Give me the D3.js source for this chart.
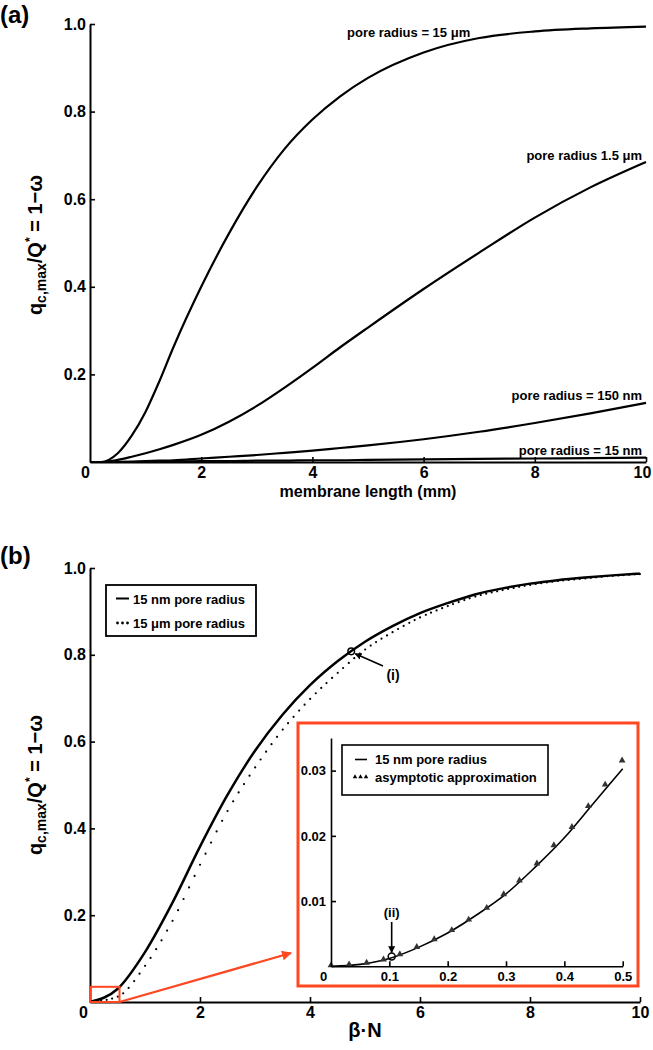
<!DOCTYPE html>
<html>
<head>
<meta charset="utf-8">
<script src="https://cdn.jsdelivr.net/npm/d3@7"></script>
<style>
  html, body { margin: 0; padding: 0; background: #fff; }
  svg { display: block; font-family: "Liberation Sans", Arial, Helvetica, sans-serif; }
</style>
</head>
<body>
<svg id="chart" width="653" height="1050"></svg>
<script>
// ---------------- DATA ----------------
// Panel (a): membrane length (mm)
const aLength = [0, 0.2, 0.5, 0.75, 1, 1.25, 1.5, 2, 2.5, 3, 3.5, 4, 4.5, 5, 6, 7, 8, 9, 10];
const aPore15um  = [0, 0, 0.02, 0.06, 0.115, 0.185, 0.262, 0.40, 0.522, 0.628, 0.715, 0.782, 0.835, 0.877, 0.935, 0.968, 0.983, 0.990, 0.994];
const aPore1_5um = [0, 0, 0.005, 0.012, 0.02, 0.029, 0.039, 0.062, 0.092, 0.128, 0.17, 0.215, 0.262, 0.307, 0.395, 0.478, 0.558, 0.627, 0.685];
const aPore150nm = [0, 0, 0.0005, 0.001, 0.002, 0.003, 0.004, 0.008, 0.012, 0.016, 0.021, 0.026, 0.032, 0.038, 0.052, 0.069, 0.089, 0.111, 0.135];
const aPore15nm  = [0, 0, 0, 0, 0.001, 0.001, 0.001, 0.002, 0.002, 0.003, 0.003, 0.004, 0.004, 0.005, 0.006, 0.007, 0.008, 0.009, 0.010];
const aCurveLabels = ["pore radius = 15 μm", "pore radius 1.5 μm", "pore radius = 150 nm", "pore radius = 15 nm"];
const aXTicks = [0, 2, 4, 6, 8, 10];
const aYTicks = [0.2, 0.4, 0.6, 0.8, 1.0];

// Panel (b): beta * N
const bBetaN = [0, 0.5, 1, 1.5, 2, 2.5, 3, 3.5, 4, 4.5, 5, 5.5, 6, 6.5, 7, 7.5, 8, 8.5, 9, 9.5, 10];
const bPore15nm = [0, 0.03, 0.115, 0.229, 0.358, 0.477, 0.579, 0.662, 0.73, 0.785, 0.83, 0.866, 0.896, 0.919, 0.939, 0.953, 0.964, 0.972, 0.978, 0.983, 0.987];
const bPore15um = [0, 0.012, 0.083, 0.187, 0.316, 0.44, 0.54, 0.627, 0.698, 0.758, 0.812, 0.852, 0.886, 0.912, 0.934, 0.949, 0.961, 0.97, 0.976, 0.982, 0.986];
const bLegend = ["15 nm pore radius", "15 μm pore radius"];
const bXTicks = [0, 2, 4, 6, 8, 10];
const bYTicks = [0.2, 0.4, 0.6, 0.8, 1.0];
const pointI = { x: 4.75, y: 0.808, label: "(i)" };

// Inset of panel (b)
const insetX = [0, 0.05, 0.1, 0.15, 0.2, 0.25, 0.3, 0.35, 0.4, 0.45, 0.5];
const inset15nm = [0, 0.0003, 0.0012, 0.0029, 0.0051, 0.0079, 0.0111, 0.0152, 0.0197, 0.025, 0.0303];
const asymX = [0, 0.031, 0.061, 0.09, 0.118, 0.147, 0.177, 0.207, 0.236, 0.267, 0.296, 0.323, 0.353, 0.382, 0.413, 0.441, 0.47, 0.499];
const asymY = [0, 0.00015, 0.0004, 0.0009, 0.0017, 0.0028, 0.004, 0.0054, 0.007, 0.0088, 0.0109, 0.013, 0.0156, 0.0184, 0.0212, 0.0244, 0.0277, 0.0314];
const insetLegend = ["15 nm pore radius", "asymptotic approximation"];
const insetXTicks = [0, 0.1, 0.2, 0.3, 0.4, 0.5];
const insetYTicks = [0.01, 0.02, 0.03];
const pointII = { x: 0.104, y: 0.0015, label: "(ii)" };
const insetDomainX = [0, 0.5];
const insetDomainY = [0, 0.035];

// ---------------- DRAWING ----------------
const svg = d3.select("#chart");
const RED = "#ff4722";
const FONT = "'Liberation Sans', Arial, Helvetica, sans-serif";
const CURVE = d3.curveMonotoneX;

svg.append("defs").html(`
  <marker id="arrBlack" viewBox="0 0 10 10" refX="9" refY="5" markerWidth="7" markerHeight="7" markerUnits="userSpaceOnUse" orient="auto">
    <path d="M0,0 L10,5 L0,10 z" fill="#000"/>
  </marker>
  <marker id="arrRed" viewBox="0 0 10 10" refX="9" refY="5" markerWidth="10" markerHeight="10" markerUnits="userSpaceOnUse" orient="auto">
    <path d="M0,0 L10,5 L0,10 z" fill="${RED}"/>
  </marker>`);

function styleAxis(g, size) {
  g.attr("font-family", FONT).attr("font-size", size).attr("font-weight", "bold");
  g.select(".domain").attr("stroke", "#000").attr("stroke-width", 2);
  g.selectAll(".tick line").attr("stroke", "#000").attr("stroke-width", 1.6);
  g.selectAll(".tick text").attr("fill", "#000");
}

function yLabel(x, y) {
  const t = svg.append("text")
    .attr("transform", `translate(${x},${y}) rotate(-90)`)
    .attr("text-anchor", "middle")
    .attr("font-family", FONT).attr("font-weight", "bold").attr("font-size", 20);
  t.append("tspan").text("q");
  t.append("tspan").attr("font-size", 14).attr("dy", 4).text("c,max");
  t.append("tspan").attr("dy", -4).text("/Q");
  t.append("tspan").attr("font-size", 12).attr("dy", -8).text("*");
  t.append("tspan").attr("dy", 8).text(" = 1\u2212ω");
}

function xAxis(x, y, ticks, pad, size, fmt, zeroShift, endShift) {
  const g = svg.append("g").attr("transform", `translate(0,${y.range()[0]})`)
    .call(d3.axisBottom(x).tickValues(ticks).tickSizeInner(-5).tickSizeOuter(0).tickPadding(pad).tickFormat(fmt));
  styleAxis(g, size);
  g.selectAll(".tick").filter(d => d === 0).select("line").remove();
  g.selectAll(".tick text").filter(d => d === 0).attr("dx", zeroShift);
  g.selectAll(".tick text").filter(d => d === ticks[ticks.length - 1]).attr("dx", endShift || 0);
  return g;
}
function yAxis(x, y, ticks, pad, size, fmt) {
  const g = svg.append("g").attr("transform", `translate(${x.range()[0]},0)`)
    .call(d3.axisLeft(y).tickValues(ticks).tickSizeInner(-5).tickSizeOuter(0).tickPadding(pad).tickFormat(fmt));
  styleAxis(g, size);
  return g;
}

// ===== Panel (a) =====
const xa = d3.scaleLinear().domain([0, 10]).range([90, 646]);
const ya = d3.scaleLinear().domain([0, 1]).range([462, 24]);

svg.append("text").attr("x", 0).attr("y", 23).attr("font-family", FONT)
  .attr("font-weight", "bold").attr("font-size", 24).text("(a)");

const lineA = d3.line().x((d, i) => xa(aLength[i])).y(d => ya(d)).curve(CURVE);
[aPore15um, aPore1_5um, aPore150nm, aPore15nm].forEach(s => {
  svg.append("path").datum(s).attr("d", lineA).attr("fill", "none")
    .attr("stroke", "#000").attr("stroke-width", 2.2);
});

xAxis(xa, ya, aXTicks, 5, 16, d3.format("d"), -5, -4);
yAxis(xa, ya, aYTicks, 4, 16, d3.format(".1f"));

// curve labels
const aLabelPos = [
  { x: 347, y: 37, anchor: "start" },
  { x: 642, y: 160, anchor: "end" },
  { x: 642, y: 400, anchor: "end" },
  { x: 642, y: 455, anchor: "end" }
];
aCurveLabels.forEach((t, i) => {
  svg.append("text").attr("x", aLabelPos[i].x).attr("y", aLabelPos[i].y)
    .attr("text-anchor", aLabelPos[i].anchor)
    .attr("font-family", FONT).attr("font-weight", "bold").attr("font-size", 13).text(t);
});

svg.append("text").attr("x", 368).attr("y", 497).attr("text-anchor", "middle")
  .attr("font-family", FONT).attr("font-weight", "bold").attr("font-size", 16)
  .text("membrane length (mm)");
yLabel(42, 245);

// ===== Panel (b) =====
const xb = d3.scaleLinear().domain([0, 10]).range([90, 640]);
const yb = d3.scaleLinear().domain([0, 1]).range([1002, 568]);

svg.append("text").attr("x", 0).attr("y", 564).attr("font-family", FONT)
  .attr("font-weight", "bold").attr("font-size", 24).text("(b)");

const lineB = d3.line().x((d, i) => xb(bBetaN[i])).y(d => yb(d)).curve(CURVE);

// dotted 15 um curve: dots placed along the drawn path every 0.1 of beta*N
const dotPath = svg.append("path").datum(bPore15um).attr("d", lineB)
  .attr("fill", "none").attr("stroke", "none");
(function () {
  const node = dotPath.node();
  const L = node.getTotalLength();
  const pts = [];
  for (let l = 0; l <= L; l += 0.4) pts.push(node.getPointAtLength(l));
  const dots = [];
  let j = 0;
  for (let k = 1; k <= 100; k++) {
    const tx = xb(k * 0.1);
    while (j < pts.length - 1 && pts[j].x < tx) j++;
    dots.push(pts[j]);
  }
  svg.append("g").selectAll("circle").data(dots).join("circle")
    .attr("cx", d => d.x).attr("cy", d => d.y).attr("r", 1.1).attr("fill", "#000");
})();

svg.append("path").datum(bPore15nm).attr("d", lineB).attr("fill", "none")
  .attr("stroke", "#000").attr("stroke-width", 2.5);

xAxis(xb, yb, bXTicks, 5, 16, d3.format("d"), -7, 0);
yAxis(xb, yb, bYTicks, 4, 16, d3.format(".1f"));

svg.append("text").attr("x", 365).attr("y", 1037).attr("text-anchor", "middle")
  .attr("font-family", FONT).attr("font-weight", "bold").attr("font-size", 20)
  .text("β·N");
yLabel(42, 785);

// legend (b)
svg.append("rect").attr("x", 106).attr("y", 585).attr("width", 150).attr("height", 51)
  .attr("fill", "#fff").attr("stroke", "#000").attr("stroke-width", 1.8);
svg.append("line").attr("x1", 116).attr("x2", 129).attr("y1", 598.5).attr("y2", 598.5)
  .attr("stroke", "#000").attr("stroke-width", 2);
[117.5, 122.5, 127.5].forEach(cx => svg.append("circle").attr("cx", cx).attr("cy", 623)
  .attr("r", 1.4).attr("fill", "#000"));
bLegend.forEach((t, i) => {
  svg.append("text").attr("x", 133).attr("y", 604 + i * 24)
    .attr("font-family", FONT).attr("font-weight", "bold").attr("font-size", 13).text(t);
});

// point (i)
svg.append("circle").attr("cx", xb(pointI.x)).attr("cy", yb(pointI.y)).attr("r", 3.3)
  .attr("fill", "none").attr("stroke", "#000").attr("stroke-width", 1.5);
svg.append("line").attr("x1", 383).attr("y1", 666).attr("x2", xb(pointI.x) + 4).attr("y2", yb(pointI.y) + 2.5)
  .attr("stroke", "#000").attr("stroke-width", 1.6).attr("marker-end", "url(#arrBlack)");
svg.append("text").attr("x", 393).attr("y", 680).attr("text-anchor", "middle")
  .attr("font-family", FONT).attr("font-weight", "bold").attr("font-size", 14).text(pointI.label);

// zoom rectangle on main plot
svg.append("rect")
  .attr("x", xb(insetDomainX[0])).attr("y", yb(insetDomainY[1]))
  .attr("width", xb(insetDomainX[1]) - xb(insetDomainX[0]) + 2)
  .attr("height", yb(insetDomainY[0]) - yb(insetDomainY[1]))
  .attr("fill", "none").attr("stroke", RED).attr("stroke-width", 2);
svg.append("line").attr("x1", xb(insetDomainX[1]) + 2).attr("y1", yb(0))
  .attr("x2", 291).attr("y2", 953)
  .attr("stroke", RED).attr("stroke-width", 2.2).attr("marker-end", "url(#arrRed)");

// ===== Inset =====
svg.append("rect").attr("x", 298).attr("y", 723).attr("width", 340).attr("height", 263)
  .attr("fill", "#fff").attr("stroke", RED).attr("stroke-width", 3);

const xi = d3.scaleLinear().domain(insetDomainX).range([331, 622.7]);
const yi = d3.scaleLinear().domain(insetDomainY).range([966.3, 738]);

const lineI = d3.line().x((d, i) => xi(insetX[i])).y(d => yi(d)).curve(CURVE);
svg.append("path").datum(inset15nm).attr("d", lineI).attr("fill", "none")
  .attr("stroke", "#000").attr("stroke-width", 1.6);

const tri = d3.symbol().type(d3.symbolTriangle).size(20);
svg.append("g").selectAll("path").data(asymY).join("path")
  .attr("d", tri)
  .attr("transform", (d, i) => `translate(${xi(asymX[i])},${yi(d) - 1})`)
  .attr("fill", "#333");

const gix = xAxis(xi, yi, insetXTicks, 5, 13, d => d === 0 ? "0" : d3.format(".1f")(d), -8, 0);
gix.select(".domain").attr("stroke-width", 1.6);
const giy = yAxis(xi, yi, insetYTicks, 5, 13, d3.format(".2f"));
giy.select(".domain").attr("stroke-width", 1.6);

// inset legend
svg.append("rect").attr("x", 342).attr("y", 745).attr("width", 206).attr("height", 50)
  .attr("fill", "#fff").attr("stroke", "#000").attr("stroke-width", 1.6);
svg.append("line").attr("x1", 355).attr("x2", 367).attr("y1", 759.5).attr("y2", 759.5)
  .attr("stroke", "#000").attr("stroke-width", 1.6);
[355, 360.5, 366].forEach(cx => svg.append("path")
  .attr("d", d3.symbol().type(d3.symbolTriangle).size(9))
  .attr("transform", `translate(${cx},777)`).attr("fill", "#000"));
insetLegend.forEach((t, i) => {
  svg.append("text").attr("x", 375).attr("y", 764 + i * 17.5)
    .attr("font-family", FONT).attr("font-weight", "bold").attr("font-size", 13).text(t);
});

// point (ii)
svg.append("circle").attr("cx", xi(pointII.x)).attr("cy", yi(pointII.y)).attr("r", 3.5)
  .attr("fill", "none").attr("stroke", "#000").attr("stroke-width", 1.5);
svg.append("line").attr("x1", xi(pointII.x)).attr("y1", 922)
  .attr("x2", xi(pointII.x)).attr("y2", yi(pointII.y) - 4)
  .attr("stroke", "#000").attr("stroke-width", 1.6).attr("marker-end", "url(#arrBlack)");
svg.append("text").attr("x", xi(pointII.x)).attr("y", 917).attr("text-anchor", "middle")
  .attr("font-family", FONT).attr("font-weight", "bold").attr("font-size", 13).text(pointII.label);
</script>
</body>
</html>
